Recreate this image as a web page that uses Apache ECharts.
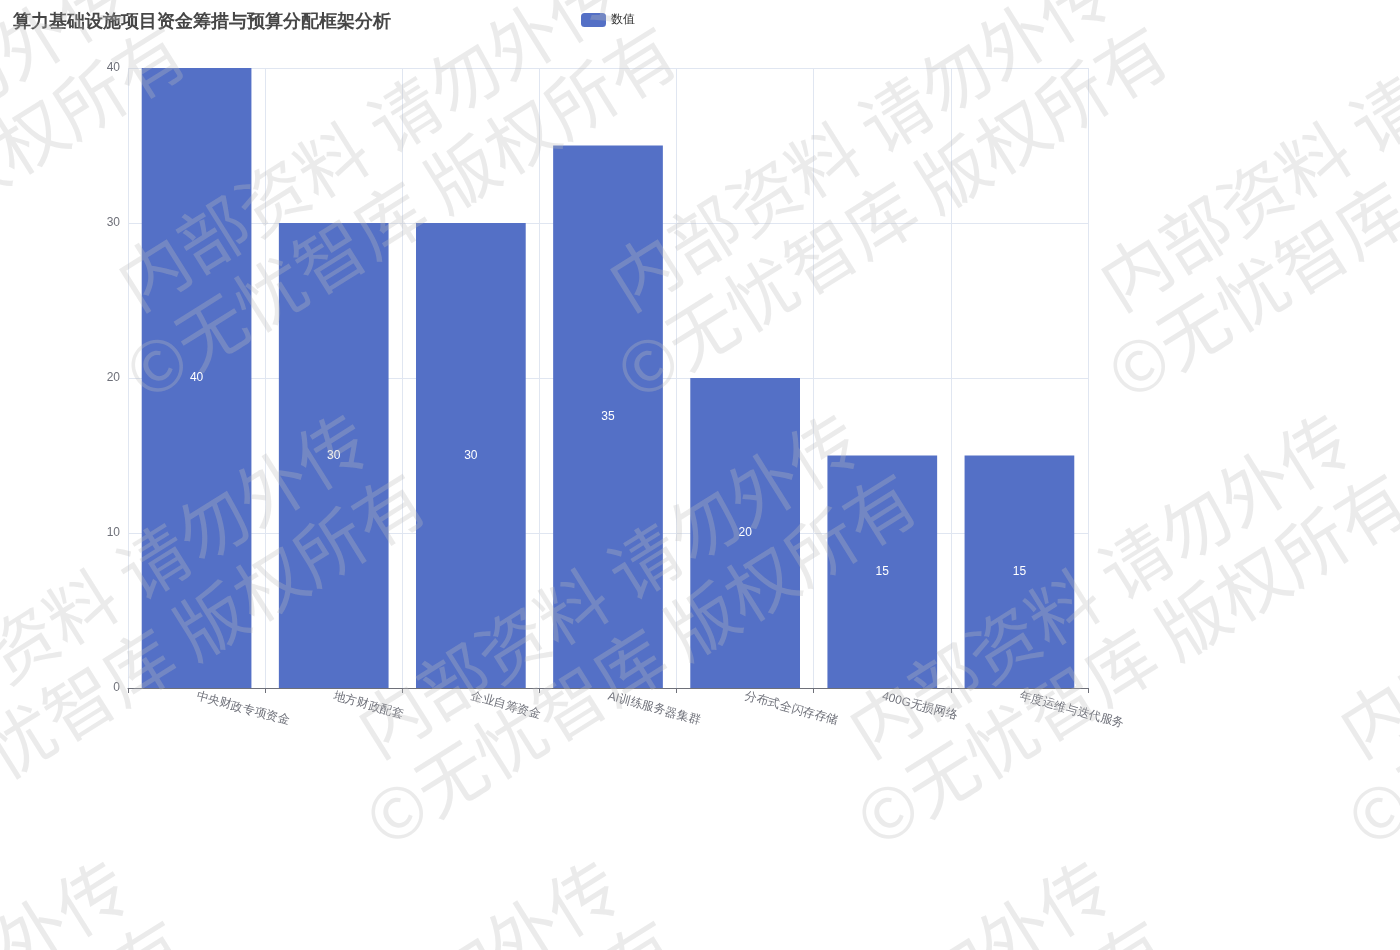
<!DOCTYPE html>
<html>
<head>
<meta charset="utf-8">
<script src="https://cdn.jsdelivr.net/npm/echarts@6/dist/echarts.min.js"></script>
<style>
html,body{margin:0;padding:0;background:#fff;}
#chart{width:1400px;height:950px;}
</style>
</head>
<body>
<div id="chart"></div>
<script>
const titleText = '算力基础设施项目资金筹措与预算分配框架分析';
const seriesName = '数值';
const categories = ['中央财政专项资金','地方财政配套','企业自筹资金','AI训练服务器集群','分布式全闪存存储','400G无损网络','年度运维与迭代服务'];
const values = [40, 30, 30, 35, 20, 15, 15];
const yTicks = [0, 10, 20, 30, 40];
const watermarkLine1 = '内部资料 请勿外传';
const watermarkLine2 = '©无忧智库 版权所有';

const chart = echarts.init(document.getElementById('chart'), null, {renderer: 'canvas'});

// watermark tiling (decoration)
const wm = [];
const ang = 32 * Math.PI / 180;
const wmFont = '70px "Noto Sans CJK SC", sans-serif';
const wmFill = 'rgba(190,190,190,0.3)';
for (let r = 0; r <= 3; r++) {
  for (let c = -1; c <= 3; c++) {
    const ax = 124 + 491 * c + (r % 2 === 0 ? 240 - 491 : 0);
    const ay = 290 + 447 * (r - 1);
    wm.push({
      type: 'text', x: ax, y: ay, rotation: ang, z: 100, silent: true,
      style: {text: watermarkLine1, fill: wmFill, font: wmFont, align: 'left', verticalAlign: 'middle'}
    });
    wm.push({
      type: 'text', x: ax + 8, y: ay + 90, rotation: ang, z: 100, silent: true,
      style: {text: watermarkLine2, fill: wmFill, font: wmFont, align: 'left', verticalAlign: 'middle'}
    });
  }
}

chart.setOption({
  animation: false,
  title: {
    text: titleText, left: 8, top: 8,
    textStyle: {fontSize: 18, fontWeight: 'bold', color: '#464646'}
  },
  legend: {
    data: [seriesName], left: 576, top: 8,
    itemWidth: 25, itemHeight: 14,
    textStyle: {fontSize: 12, color: '#333'}
  },
  grid: {left: 128, right: 312, top: 68, bottom: 262, containLabel: false},
  xAxis: {
    type: 'category', data: categories,
    axisLine: {lineStyle: {color: '#6e7079'}},
    axisTick: {show: true},
    splitLine: {show: true, lineStyle: {color: '#e0e6f1'}},
    axisLabel: {rotate: -15, fontSize: 12, color: '#6e7079', interval: 0}
  },
  yAxis: {
    type: 'value', min: yTicks[0], max: yTicks[yTicks.length - 1], interval: 10,
    axisLabel: {fontSize: 12, color: '#6e7079'},
    splitLine: {lineStyle: {color: '#e0e6f1'}}
  },
  series: [{
    name: seriesName, type: 'bar', data: values,
    barCategoryGap: '20%',
    itemStyle: {color: '#5470c6'},
    label: {show: true, position: 'inside', color: '#fff', fontSize: 12}
  }],
  graphic: wm
});
</script>
</body>
</html>
